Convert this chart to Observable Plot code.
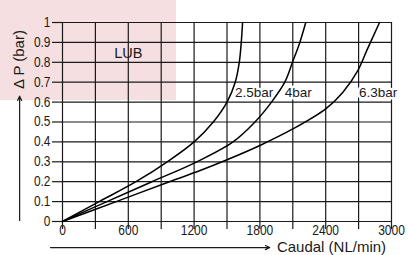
<!DOCTYPE html>
<html><head><meta charset="utf-8">
<script src="https://cdn.jsdelivr.net/npm/d3@7"></script>
<script src="https://cdn.jsdelivr.net/npm/@observablehq/plot@0.6"></script>
<style>body{margin:0;background:#fff}</style>
</head><body><div id="chart"></div>
<script>
// Curve data: flow (NL/min) vs pressure drop (bar)
const flow25 = [0, 335, 670, 955, 1200, 1375, 1500, 1575, 1612, 1630, 1642];
const dp25   = [0, 0.1, 0.2, 0.3, 0.4, 0.5, 0.6, 0.7, 0.8, 0.9, 1.0];
const flow4  = [0, 405, 815, 1225, 1555, 1755, 1906, 2027, 2097, 2164, 2218];
const dp4    = [0, 0.1, 0.2, 0.3, 0.4, 0.5, 0.6, 0.7, 0.8, 0.9, 1.0];
const flow63 = [0, 490, 975, 1255, 1500, 1800, 2100, 2400, 2557, 2694, 2775, 2891];
const dp63   = [0, 0.1, 0.2, 0.256, 0.31, 0.382, 0.465, 0.566, 0.65, 0.76, 0.86, 1.0];

const seriesNames = ["2.5bar", "4bar", "6.3bar"];
const labelFlow = [1573, 2027, 2703];
const labelDp = [0.647, 0.647, 0.647];

const xTicks = [0, 300, 600, 900, 1200, 1500, 1800, 2100, 2400, 2700, 3000];
const xLabels = [0, 600, 1200, 1800, 2400, 3000];
const yTicks = [0, 0.1, 0.2, 0.3, 0.4, 0.5, 0.6, 0.7, 0.8, 0.9, 1];

// annotation: LUB zone
const zoneName = ["LUB"];
const zoneX1 = [-570], zoneX2 = [1040], zoneY1 = [0.608], zoneY2 = [1.12];
const zoneLabelX = [600], zoneLabelY = [0.844];

// axis titles & arrows
const yTitle = ["Δ P (bar)"];
const xTitle = ["Caudal (NL/min)"];

const rows = [];
[[flow25, dp25], [flow4, dp4], [flow63, dp63]].forEach(([fx, fy], i) => {
  fx.forEach((v, j) => rows.push({series: seriesNames[i], flow: v, dp: fy[j]}));
});
const labels = seriesNames.map((s, i) => ({s, x: labelFlow[i], y: labelDp[i]}));
const zone = zoneName.map((n, i) => ({n, x1: zoneX1[i], x2: zoneX2[i], y1: zoneY1[i], y2: zoneY2[i], lx: zoneLabelX[i], ly: zoneLabelY[i]}));
const arrows = [
  {x1: -391, y1: 0.005, x2: -391, y2: 0.63},
  {x1: -109, y1: -0.131, x2: 1890, y2: -0.131}
];
const yTitleRows = yTitle.map(t => ({t, x: -391, y: 0.814}));
const xTitleRows = xTitle.map(t => ({t, x: 1955, y: -0.128}));

const ink = "#1a1a1a";
const sans = "'Liberation Sans', Arial, sans-serif";

const chart = Plot.plot({
  width: 408,
  height: 255,
  marginLeft: 62,
  marginRight: 17,
  marginTop: 22,
  marginBottom: 34,
  style: {fontFamily: sans, fontSize: "13px", color: ink, background: "#fff"},
  x: {domain: [0, 3000]},
  y: {domain: [0, 1]},
  marks: [
    Plot.rect(zone, {x1: "x1", x2: "x2", y1: "y1", y2: "y2", fill: "#f6dfe0"}),
    Plot.ruleX(xTicks, {y1: 0, y2: 1, stroke: ink, strokeWidth: 1.2}),
    Plot.ruleY(yTicks, {x1: 0, x2: 3000, stroke: ink, strokeWidth: 1.2}),
    Plot.axisX(xTicks, {tickSize: 8, tickFormat: () => "", stroke: ink, strokeWidth: 1.2}),
    Plot.axisX(xLabels, {tickSize: 0, tickPadding: 3, tickFormat: d => String(d), fontSize: 15, fill: ink}),
    Plot.axisY(yTicks, {tickSize: 10, tickPadding: 2, tickFormat: d => String(d), fontSize: 14, stroke: ink, strokeWidth: 1.2, fill: ink}),
    Plot.text(zone, {x: "lx", y: "ly", text: "n", fontSize: 14.5, fill: ink, ariaLabel: "narrowz"}),
    Plot.text(labels, {x: "x", y: "y", text: "s", textAnchor: "start", fontSize: 13.5, fill: ink, stroke: "#fff", strokeWidth: 5, ariaLabel: "narrowc"}),
    Plot.line(rows, {x: "flow", y: "dp", z: "series", curve: "catmull-rom", stroke: "#000", strokeWidth: 1.5}),
    Plot.arrow(arrows, {x1: "x1", y1: "y1", x2: "x2", y2: "y2", stroke: ink, strokeWidth: 1.2, headLength: 6, headAngle: 50}),
    Plot.text(yTitleRows, {x: "x", y: "y", text: "t", rotate: -90, textAnchor: "middle", fontSize: 15, fill: ink}),
    Plot.text(xTitleRows, {x: "x", y: "y", text: "t", textAnchor: "start", fontSize: 15, fill: ink})
  ]
});

// condense selected texts horizontally (the reference uses a narrow face)
const squeeze = [
  ['g[aria-label="x-axis tick label"] text', 0.8],
  ['g[aria-label="y-axis tick label"] text', 0.85],
  ['g[aria-label="narrowz"] text', 0.8],
  ['g[aria-label="narrowc"] text', 0.78]
];
squeeze.forEach(([sel, s]) => {
  chart.querySelectorAll(sel).forEach(t => {
    const tr = t.getAttribute("transform");
    if (tr) {
      t.setAttribute("transform", `${tr} scale(${s},1)`);
    } else {
      const x = +t.getAttribute("x") || 0, y = +t.getAttribute("y") || 0;
      t.removeAttribute("x"); t.removeAttribute("y");
      t.setAttribute("transform", `translate(${x},${y}) scale(${s},1)`);
    }
  });
});
document.getElementById("chart").appendChild(chart);
</script>
</body></html>
